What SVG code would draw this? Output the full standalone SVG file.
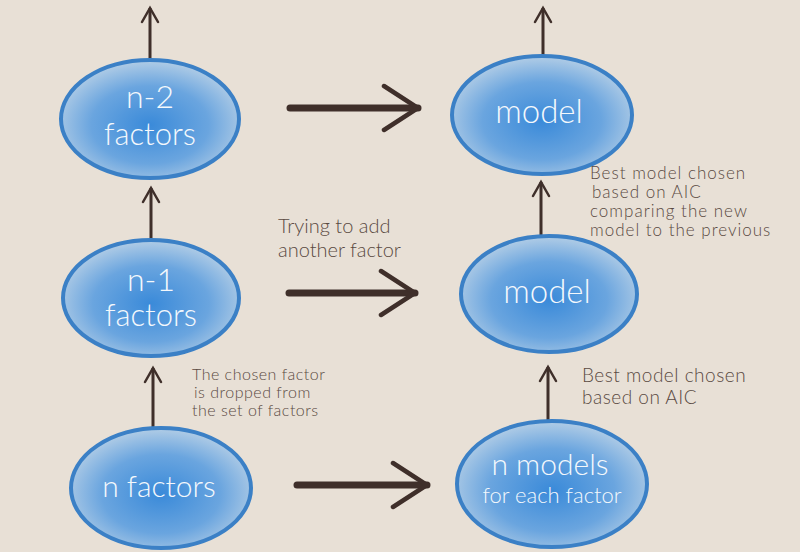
<svg xmlns="http://www.w3.org/2000/svg" width="800" height="552" viewBox="0 0 800 552">
<defs>
<radialGradient id="blue" cx="0.5" cy="0.55" r="0.55">
<stop offset="0" stop-color="#3a8ad9"/>
<stop offset="0.6" stop-color="#6aa5df"/>
<stop offset="1" stop-color="#b2cde6"/>
</radialGradient>
<marker id="head" viewBox="0 0 20 20" refX="17" refY="10" markerWidth="20" markerHeight="20" markerUnits="userSpaceOnUse" orient="auto">
<path d="M3 2 L17 10 L3 18" fill="none" stroke="#3f2f2a" stroke-width="2.5" stroke-linecap="round"/>
</marker>
<marker id="headBig" viewBox="0 0 40 52" refX="37" refY="26" markerWidth="40" markerHeight="52" markerUnits="userSpaceOnUse" orient="auto">
<path d="M3 4 L37 26 L3 48" fill="none" stroke="#3f2f2a" stroke-width="4.5" stroke-linecap="round"/>
</marker>
</defs>
<style>
.node ellipse{fill:url(#blue);stroke:#3b80c6;stroke-width:4}
.node text{fill:#f4f8fc;font-family:Lato,"Open Sans",sans-serif;font-weight:300;text-anchor:middle}
.v{stroke:#3f2f2a;stroke-width:3;fill:none;marker-end:url(#head)}
.h{stroke:#3f2f2a;stroke-width:7;stroke-linecap:round;fill:none;marker-end:url(#headBig)}
.note{fill:#5a4a42;font-family:Lato,"Open Sans",sans-serif;font-weight:300}
</style>
<rect width="800" height="552" fill="#e8e0d6"/>
<g id="connectors">
<line class="v" x1="150" y1="68" x2="150" y2="8"/>
<line class="v" x1="151" y1="247" x2="151" y2="188"/>
<line class="v" x1="153" y1="435" x2="153" y2="368"/>
<line class="v" x1="543" y1="67" x2="543" y2="8"/>
<line class="v" x1="541" y1="245" x2="541" y2="182"/>
<line class="v" x1="548" y1="428" x2="548" y2="367"/>
<line class="h" x1="290" y1="108" x2="418" y2="108"/>
<line class="h" x1="289" y1="293" x2="415" y2="293"/>
<line class="h" x1="297" y1="485" x2="427" y2="485"/>
</g>
<g id="n2" class="node"><ellipse cx="150" cy="119" rx="89" ry="59"/><text x="150" y="108" font-size="32">n-2</text><text x="150" y="145" font-size="31">factors</text></g>
<g id="n1" class="node"><ellipse cx="151" cy="298" rx="88" ry="58"/><text x="151" y="291" font-size="32">n-1</text><text x="151" y="326" font-size="31">factors</text></g>
<g id="n0" class="node"><ellipse cx="161" cy="488" rx="90" ry="60"/><text x="159" y="497" font-size="30">n factors</text></g>
<g id="m2" class="node"><ellipse cx="542" cy="115" rx="90" ry="59"/><text x="539" y="123" font-size="33">model</text></g>
<g id="m1" class="node"><ellipse cx="549" cy="294" rx="88" ry="58"/><text x="547" y="303" font-size="33">model</text></g>
<g id="m0" class="node"><ellipse cx="552" cy="484" rx="95" ry="63"/><text x="550" y="475" font-size="30">n models</text><text x="552" y="503" font-size="22">for each factor</text></g>
<g id="notes">
<text class="note" font-size="20"><tspan x="278" y="233">Trying to add</tspan><tspan x="278" y="257">another factor</tspan></text>
<text class="note" font-size="17" letter-spacing="1"><tspan x="590" y="179">Best model chosen</tspan><tspan x="592" y="198">based on AIC</tspan><tspan x="590" y="217">comparing the new</tspan><tspan x="590" y="236">model to the previous</tspan></text>
<text class="note" font-size="16" letter-spacing="0.5"><tspan x="192" y="380">The chosen factor</tspan><tspan x="194" y="398">is dropped from</tspan><tspan x="192" y="416">the set of factors</tspan></text>
<text class="note" font-size="19" letter-spacing="0.5"><tspan x="582" y="382">Best model chosen</tspan><tspan x="582" y="404">based on AIC</tspan></text>
</g>
</svg>
